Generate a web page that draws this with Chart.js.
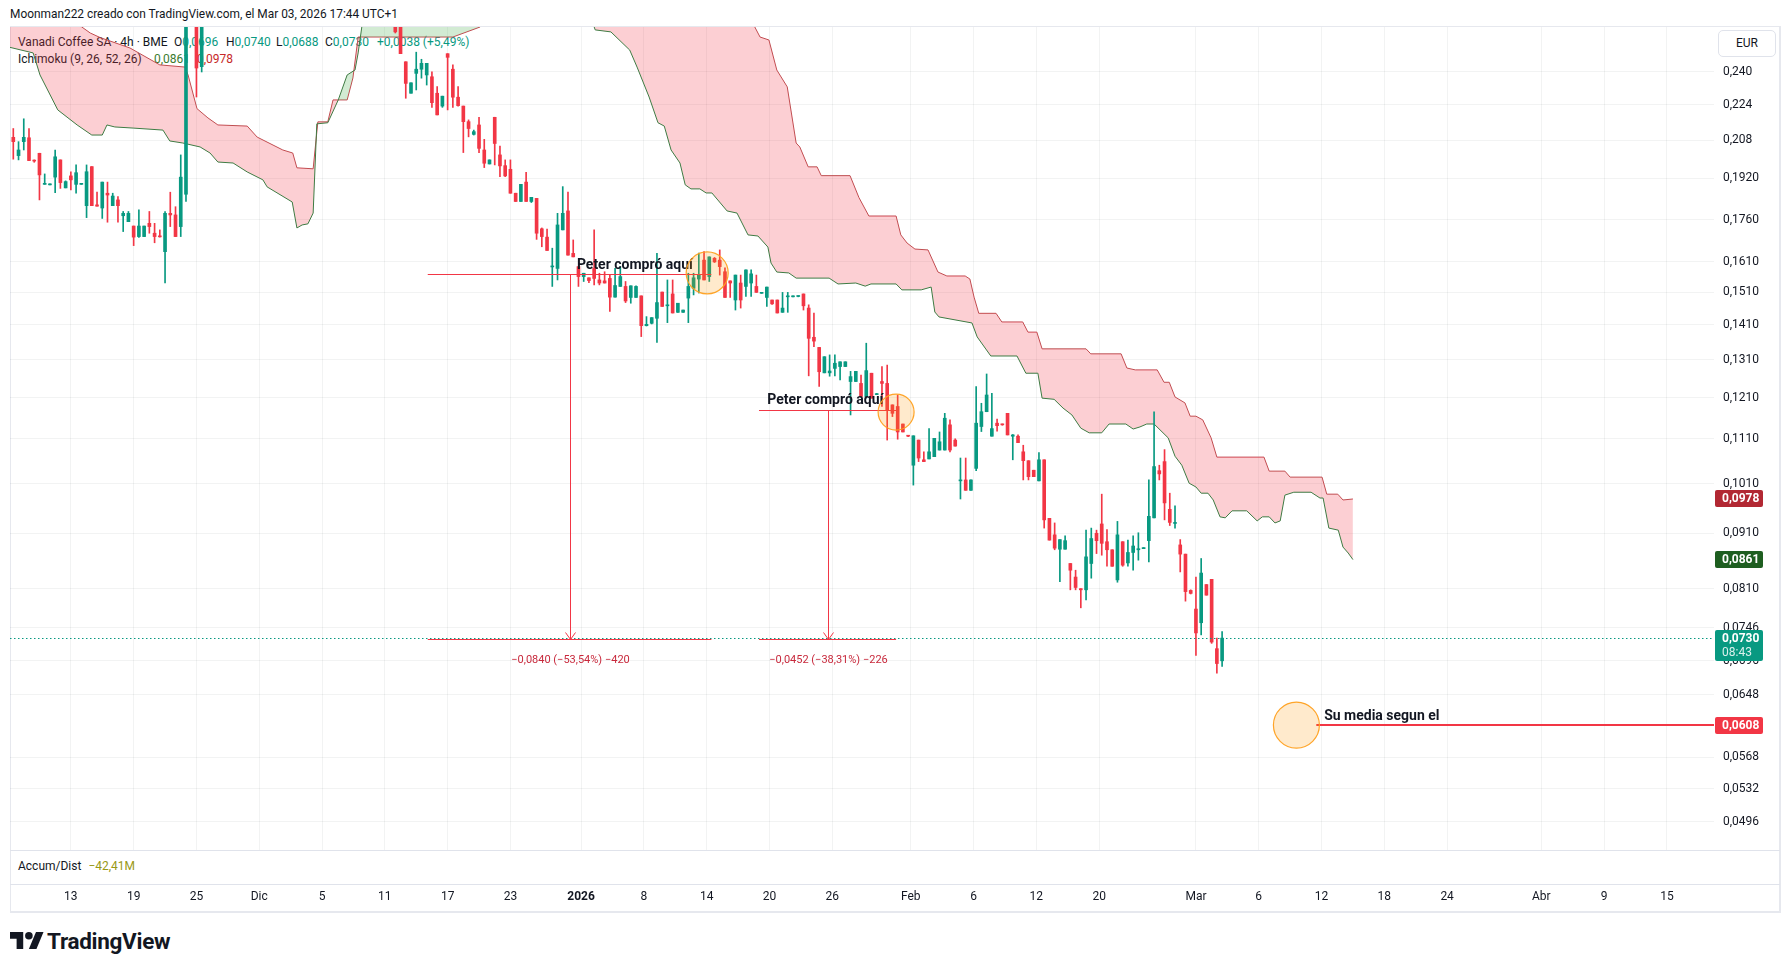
<!DOCTYPE html>
<html><head><meta charset="utf-8">
<script src="https://cdn.jsdelivr.net/npm/chart.js"></script>
<style>
body{margin:0;background:#fff;font-family:Roboto,"Noto Sans",sans-serif;color:#131722}
#wrap{position:relative;width:1790px;height:972px;overflow:hidden;background:#fff}
.t{position:absolute;white-space:nowrap;font-size:12px;line-height:16px;z-index:1}
canvas{position:absolute;left:0;top:0;z-index:2}
.ln{position:absolute;background:#E0E3EB;z-index:1}
</style></head><body><div id="wrap">
<div class="t" style="left:10px;top:6px;font-size:11.9px">Moonman222 creado con TradingView.com, el Mar 03, 2026 17:44 UTC+1</div>
<div style="position:absolute;left:10px;top:26px;width:1771px;height:887px;border:1px solid #E6E8EE;border-right-width:2px;border-bottom-width:2px;box-sizing:border-box;z-index:1"></div>
<div class="ln" style="left:10px;top:850px;width:1770px;height:1px"></div>
<div class="ln" style="left:10px;top:884px;width:1770px;height:1px"></div>
<div class="t" style="left:18px;top:34px">Vanadi Coffee SA · 4h · BME</div>
<div class="t" style="left:174px;top:34px">O<span style="color:#089981">0,0696</span></div>
<div class="t" style="left:226px;top:34px">H<span style="color:#089981">0,0740</span></div>
<div class="t" style="left:276px;top:34px">L<span style="color:#089981">0,0688</span></div>
<div class="t" style="left:325px;top:34px">C<span style="color:#089981">0,0730</span></div>
<div class="t" style="left:377px;top:34px;color:#089981">+0,0038 (+5,49%)</div>
<div class="t" style="left:18px;top:51px">Ichimoku (9, 26, 52, 26)</div>
<div class="t" style="left:154px;top:51px;color:#3B7A2E">0,0861</div>
<div class="t" style="left:197px;top:51px;color:#C62828">0,0978</div>
<div class="t" style="left:1718px;top:30px;width:58px;height:27px;border:1px solid #E0E3EB;border-radius:5px;box-sizing:border-box;text-align:center;line-height:25px;font-size:12px">EUR</div>
<div class="t" style="left:18px;top:858px;font-size:12px">Accum/Dist <span style="color:#999915;margin-left:4px">−42,41M</span></div>
<svg style="position:absolute;left:10px;top:928px" width="34" height="27" viewBox="0 0 36 28"><path d="M14 22H7V11H0V4h14v18z" fill="#131722"/><circle cx="20" cy="8" r="4" fill="#131722"/><path d="M28 22h-8l7.5-18h8L28 22z" fill="#131722"/></svg>
<div class="t" style="left:47px;top:928px;font-size:22.5px;line-height:26px;font-weight:700;letter-spacing:-0.3px">TradingView</div>
<canvas id="c" width="1790" height="972"></canvas>
</div>
<script>
// ---- data ----
const candles = [
[0.2092,0.2131,0.1998,0.2073],[0.2013,0.2073,0.1995,0.2037],[0.2073,0.2175,0.2037,0.2092],[0.2090,0.2131,0.1992,0.1992],
[0.1992,0.1995,0.1985,0.1990],[0.2023,0.2023,0.1834,0.1933],[0.1895,0.1937,0.1895,0.1899],[0.1893,0.1893,0.1893,0.1893],
[0.1924,0.2037,0.1862,0.2008],[0.1995,0.1995,0.1879,0.1902],[0.1881,0.1909,0.1881,0.1906],[0.1929,0.1946,0.1873,0.1913],
[0.1895,0.1974,0.1860,0.1942],[0.1895,0.1895,0.1895,0.1895],[0.1812,0.1974,0.1767,0.1946],[0.1967,0.1967,0.1812,0.1812],
[0.1815,0.1864,0.1810,0.1810],[0.1803,0.1904,0.1764,0.1904],[0.1860,0.1904,0.1750,0.1853],[0.1812,0.1860,0.1812,0.1849],
[0.1834,0.1847,0.1750,0.1812],[0.1774,0.1790,0.1716,0.1783],[0.1752,0.1790,0.1752,0.1783],[0.1736,0.1736,0.1666,0.1696],
[0.1698,0.1796,0.1695,0.1736],[0.1698,0.1736,0.1698,0.1736],[0.1746,0.1790,0.1710,0.1734],[0.1710,0.1746,0.1676,0.1698],
[0.1700,0.1722,0.1696,0.1697],[0.1645,0.1790,0.1540,0.1783],[0.1783,0.1864,0.1734,0.1777],[0.1777,0.1808,0.1698,0.1698],
[0.1734,0.2016,0.1698,0.1924],[0.1856,0.3000,0.1828,0.2850],[0.2700,0.3000,0.2650,0.2900],[0.2800,0.3000,0.2277,0.2420],
[0.2427,0.3000,0.2400,0.2800],
[0.280,0.310,0.275,0.300],[0.300,0.330,0.290,0.320],[0.320,0.340,0.300,0.310],[0.310,0.330,0.300,0.325],
[0.325,0.350,0.310,0.340],[0.340,0.360,0.330,0.350],[0.350,0.370,0.330,0.340],[0.340,0.350,0.320,0.330],
[0.330,0.340,0.310,0.320],[0.320,0.330,0.300,0.310],[0.310,0.320,0.295,0.300],[0.300,0.315,0.290,0.305],
[0.305,0.320,0.300,0.310],[0.310,0.330,0.300,0.320],[0.320,0.330,0.310,0.315],[0.315,0.320,0.300,0.305],
[0.305,0.310,0.295,0.300],[0.300,0.310,0.290,0.295],[0.295,0.300,0.285,0.290],[0.290,0.300,0.280,0.295],
[0.295,0.310,0.290,0.305],[0.305,0.315,0.295,0.300],[0.300,0.305,0.290,0.295],[0.295,0.300,0.285,0.290],
[0.290,0.295,0.280,0.285],[0.285,0.290,0.278,0.282],[0.282,0.290,0.278,0.288],[0.288,0.295,0.282,0.290],
[0.290,0.300,0.285,0.295],[0.295,0.300,0.288,0.292],[0.292,0.296,0.285,0.288],[0.288,0.292,0.280,0.284],
[0.284,0.290,0.278,0.282],[0.282,0.286,0.275,0.278],[0.278,0.282,0.272,0.275],[0.275,0.278,0.268,0.270],
[0.2680,0.2720,0.2605,0.2611],[0.2680,0.2720,0.2494,0.2494],
[0.2452,0.2452,0.2271,0.2343],[0.2295,0.2346,0.2295,0.2346],[0.2393,0.2502,0.2311,0.2414],[0.2414,0.2465,0.2369,0.2444],
[0.2385,0.2444,0.2335,0.2444],[0.2376,0.2401,0.2228,0.2250],[0.2295,0.2327,0.2193,0.2193],[0.2234,0.2281,0.2228,0.2281],
[0.2494,0.2494,0.2216,0.2475],[0.2414,0.2436,0.2228,0.2276],[0.2276,0.2327,0.2234,0.2236],[0.2234,0.2234,0.2026,0.2162],
[0.2162,0.2170,0.2094,0.2131],[0.2105,0.2124,0.2102,0.2117],[0.2147,0.2182,0.2026,0.2044],[0.2037,0.2083,0.1963,0.1981],
[0.1978,0.1995,0.1978,0.1995],[0.2182,0.2182,0.1974,0.2065],[0.2016,0.2054,0.1926,0.1970],[0.1971,0.1995,0.1926,0.1929],
[0.1956,0.1995,0.1860,0.1860],[0.1860,0.1860,0.1828,0.1828],[0.1828,0.1895,0.1828,0.1895],[0.1904,0.1944,0.1828,0.1828],
[0.1828,0.1844,0.1824,0.1844],[0.1840,0.1840,0.1688,0.1710],[0.1726,0.1729,0.1662,0.1698],[0.1696,0.1725,0.1649,0.1649],
[0.1593,0.1657,0.1529,0.1596],[0.1588,0.1783,0.1550,0.1740],[0.1722,0.1886,0.1722,0.1783],[0.1792,0.1864,0.1633,0.1633],
[0.1639,0.1686,0.1627,0.1627],[0.1594,0.1594,0.1529,0.1561],[0.1561,0.1572,0.1545,0.1572],[0.1557,0.1557,0.1541,0.1548],
[0.1588,0.1722,0.1534,0.1555],[0.1550,0.1572,0.1534,0.1540],[0.1547,0.1577,0.1540,0.1540],[0.1555,0.1566,0.1451,0.1495],
[0.1495,0.1588,0.1495,0.1532],[0.1529,0.1594,0.1529,0.1561],[0.1529,0.1545,0.1478,0.1483],[0.1494,0.1531,0.1476,0.1531],
[0.1494,0.1531,0.1494,0.1529],[0.1499,0.1499,0.1376,0.1408],[0.1408,0.1435,0.1407,0.1412],[0.1415,0.1432,0.1413,0.1432],
[0.1430,0.1639,0.1359,0.1478],[0.1511,0.1511,0.1466,0.1466],[0.1468,0.1550,0.1417,0.1471],[0.1505,0.1550,0.1446,0.1446],
[0.1448,0.1476,0.1448,0.1476],[0.1448,0.1455,0.1448,0.1455],[0.1492,0.1572,0.1417,0.1529],[0.1523,0.1572,0.1502,0.1557],
[0.1553,0.1640,0.1508,0.1566],
[0.1616,0.1645,0.1550,0.1550],[0.1561,0.1627,0.1545,0.1627],[0.1622,0.1625,0.1608,0.1610],[0.1616,0.1651,0.1566,0.1594],
[0.1577,0.1590,0.1494,0.1494],[0.1547,0.1547,0.1494,0.1540],[0.1486,0.1566,0.1455,0.1566],[0.1540,0.1566,0.1461,0.1486],
[0.1529,0.1583,0.1497,0.1583],[0.1540,0.1583,0.1497,0.1570],[0.1529,0.1566,0.1510,0.1510],[0.1507,0.1510,0.1507,0.1509],
[0.1494,0.1527,0.1466,0.1527],[0.1486,0.1486,0.1472,0.1474],[0.1486,0.1486,0.1446,0.1446],[0.1448,0.1510,0.1448,0.1461],
[0.1496,0.1510,0.1448,0.1498],[0.1496,0.1498,0.1496,0.1498],[0.1497,0.1499,0.1496,0.1498],[0.1505,0.1505,0.1455,0.1468],
[0.1461,0.1471,0.1267,0.1371],[0.1374,0.1446,0.1347,0.1363],[0.1345,0.1345,0.1239,0.1278],[0.1275,0.1319,0.1275,0.1319],
[0.1275,0.1324,0.1266,0.1280],[0.1287,0.1324,0.1267,0.1301],[0.1292,0.1305,0.1256,0.1305],[0.1292,0.1305,0.1292,0.1305],
[0.1252,0.1279,0.1167,0.1265],[0.1252,0.1279,0.1252,0.1279],[0.1247,0.1269,0.1213,0.1213],[0.1213,0.1357,0.1209,0.1281],
[0.1274,0.1274,0.1209,0.1209],[0.1218,0.1221,0.1218,0.1220],[0.1252,0.1292,0.1188,0.1247],[0.1247,0.1296,0.1107,0.1179],
[0.1192,0.1192,0.1163,0.1171],[0.1188,0.1217,0.1109,0.1126],[0.1145,0.1145,0.1126,0.1126],[0.1118,0.1118,0.1115,0.1116],
[0.1050,0.1117,0.1007,0.1117],[0.1107,0.1107,0.1058,0.1066],[0.1062,0.1080,0.1058,0.1058],[0.1064,0.1134,0.1064,0.1080],
[0.1069,0.1111,0.1069,0.1111],[0.1084,0.1126,0.1084,0.1103],[0.1084,0.1171,0.1084,0.1159],[0.1143,0.1155,0.1080,0.1084],
[0.1107,0.1110,0.1093,0.1093],[0.1016,0.1066,0.0978,0.1018],[0.1018,0.1066,0.0996,0.0996],[0.0996,0.1018,0.0996,0.1018],
[0.1043,0.1239,0.1038,0.1147],[0.1139,0.1196,0.1127,0.1175],[0.1175,0.1272,0.1175,0.1217],[0.1116,0.1221,0.1116,0.1134],
[0.1147,0.1157,0.1128,0.1141],[0.1145,0.1145,0.1142,0.1143],[0.1171,0.1171,0.1119,0.1119],[0.1116,0.1120,0.1062,0.1119],
[0.1116,0.1119,0.1101,0.1101],[0.1080,0.1095,0.1018,0.1060],[0.1060,0.1060,0.1018,0.1025],[0.1039,0.1039,0.1025,0.1025],
[0.1016,0.1078,0.1016,0.1062],[0.1062,0.1062,0.0920,0.0936],[0.0939,0.0939,0.0897,0.0897],[0.0907,0.0930,0.0879,0.0882],
[0.0880,0.0898,0.0822,0.0898],[0.0880,0.0905,0.0880,0.0896],[0.0854,0.0854,0.0808,0.0842],[0.0830,0.0842,0.0808,0.0812],
[0.0810,0.0810,0.0778,0.0808],[0.0808,0.0916,0.0791,0.0866],[0.0854,0.0920,0.0828,0.0900],[0.0910,0.0916,0.0872,0.0896],
[0.0928,0.0988,0.0869,0.0891],[0.0894,0.0917,0.0849,0.0879],[0.0879,0.0879,0.0849,0.0849],[0.0825,0.0933,0.0821,0.0907],
[0.0894,0.0894,0.0849,0.0851],[0.0855,0.0897,0.0849,0.0874],[0.0874,0.0905,0.0842,0.0886],[0.0879,0.0911,0.0860,0.0881],
[0.0881,0.0883,0.0881,0.0883],[0.0896,0.1018,0.0857,0.0943],[0.0940,0.1175,0.0940,0.1047],[0.1038,0.1050,0.1018,0.1031],
[0.1058,0.1085,0.0936,0.0970],[0.0957,0.0990,0.0925,0.0931],[0.0929,0.0964,0.0920,0.0931],[0.0888,0.0898,0.0839,0.0871],
[0.0871,0.0871,0.0789,0.0805],[0.0807,0.0808,0.0801,0.0802],[0.0776,0.0830,0.0704,0.0738],[0.0754,0.0863,0.0735,0.0837],
[0.0817,0.0817,0.0799,0.0799],[0.0826,0.0826,0.0722,0.0724],[0.0714,0.0730,0.0678,0.0692],[0.0696,0.0740,0.0688,0.0730]
];
// Ichimoku leading spans [bar index, price]
const spanA = [[-1,0.2530],[3.8,0.2498],[5.1,0.2385],[8.5,0.2216],[12.2,0.2147],[15.0,0.2102],[17.0,0.2102],[17.9,0.2147],[19.4,0.2138],[22.9,0.2133],[28.6,0.2124],[29.9,0.2076],[32.4,0.2067],[35.7,0.2050],[37.6,0.2024],[39.1,0.1986],[42.0,0.1982],[44.7,0.1945],[47.7,0.1913],[48.5,0.1885],[53.3,0.1826],[54.2,0.1729],[55.2,0.1740],[56.3,0.1744],[57.3,0.1784],[58.0,0.2152],[60.1,0.2157],[62.1,0.2263],[63.8,0.2385],[65.3,0.2410],[65.9,0.2498],[66.6,0.2638],[68,0.2750],[80,0.3000],[95,0.3100],[105,0.2900],[110.5,0.2680],[111.2,0.2622],[114.2,0.2611],[117.8,0.2513],[119.2,0.2425],[121.5,0.2277],[123.2,0.2157],[124.4,0.2142],[125.7,0.2037],[127.4,0.1982],[128.4,0.1893],[129.5,0.1877],[131.2,0.1877],[132.4,0.1861],[133.5,0.1861],[136.4,0.1792],[138.3,0.1784],[140.4,0.1704],[142.3,0.1700],[144.2,0.1661],[144.8,0.1606],[145.9,0.1576],[148.2,0.1573],[149.6,0.1556],[155.9,0.1556],[157.6,0.1537],[161.0,0.1540],[162.8,0.1530],[163.9,0.1537],[168.7,0.1537],[169.8,0.1518],[173.5,0.1518],[175.4,0.1527],[176.1,0.1449],[176.9,0.1434],[183.2,0.1416],[184.2,0.1375],[186.8,0.1321],[191.8,0.1321],[193.5,0.1274],[195.8,0.1274],[196.6,0.1209],[198.9,0.1206],[200.6,0.1184],[202.3,0.1167],[204.0,0.1135],[205.6,0.1124],[208.0,0.1124],[209.4,0.1145],[212.6,0.1145],[214.0,0.1133],[215.3,0.1138],[216.6,0.1145],[218.0,0.1145],[220.7,0.1112],[222.0,0.1070],[223.3,0.1050],[224.7,0.1011],[226.0,0.1003],[227.0,0.0990],[228.3,0.0990],[229.3,0.0976],[230.6,0.0942],[231.6,0.0940],[232.9,0.0954],[235.7,0.0954],[237.7,0.0934],[238.7,0.0942],[240.0,0.0942],[241.1,0.0930],[242.1,0.0934],[243.0,0.0986],[244.7,0.0992],[248.0,0.0992],[249.7,0.0980],[250.3,0.0980],[251.4,0.0920],[253.2,0.0916],[254.1,0.0884],[255.1,0.0873],[256.0,0.0861]];
const spanB = [[-1,0.2680],[13,0.2640],[14.7,0.2605],[16.6,0.2580],[22.3,0.2524],[28.0,0.2436],[32.8,0.2425],[33.4,0.2385],[35.1,0.2222],[37.2,0.2179],[39.1,0.2147],[44.7,0.2142],[46.6,0.2093],[51.5,0.2037],[53.4,0.2024],[54.2,0.1962],[57.3,0.1958],[58.2,0.2161],[60.1,0.2161],[61.1,0.2263],[63.8,0.2263],[64.9,0.2370],[65.9,0.2583],[84.0,0.2583],[89.2,0.2638],[91.1,0.2750],[100,0.2900],[110,0.3100],[125,0.3100],[138,0.2900],[141.7,0.2638],[142.7,0.2583],[144.4,0.2567],[145.9,0.2410],[147.9,0.2326],[149.6,0.2067],[150.3,0.2050],[151.9,0.1966],[153.6,0.1966],[154.4,0.1930],[159.9,0.1930],[161.6,0.1843],[163.5,0.1773],[168.7,0.1773],[169.6,0.1704],[170.8,0.1675],[172.3,0.1654],[174.8,0.1651],[176.7,0.1576],[178.4,0.1563],[181.9,0.1563],[182.8,0.1553],[183.6,0.1495],[184.5,0.1445],[187.8,0.1445],[188.9,0.1419],[192.9,0.1419],[193.9,0.1389],[195.6,0.1389],[196.6,0.1341],[205.0,0.1341],[205.9,0.1327],[211.7,0.1327],[212.8,0.1288],[214.4,0.1283],[218.6,0.1283],[219.9,0.1250],[220.9,0.1250],[222.0,0.1212],[223.9,0.1197],[224.9,0.1164],[226.0,0.1164],[227.3,0.1155],[228.9,0.1112],[230.0,0.1068],[239.0,0.1068],[240.0,0.1037],[243.0,0.1037],[244.0,0.1024],[250.1,0.1024],[251.0,0.0988],[253.1,0.0988],[254.1,0.0976],[256.0,0.0978]];
const priceTicks = [0.240,0.224,0.208,0.1920,0.1760,0.1610,0.1510,0.1410,0.1310,0.1210,0.1110,0.1010,0.0910,0.0810,0.0746,0.0696,0.0648,0.0568,0.0532,0.0496];
const priceTickLabels = ['0,240','0,224','0,208','0,1920','0,1760','0,1610','0,1510','0,1410','0,1310','0,1210','0,1110','0,1010','0,0910','0,0810','0,0746','0,0696','0,0648','0,0568','0,0532','0,0496'];
const timeTicks = [11,23,35,47,59,71,83,95,108.5,120.5,132.5,144.5,156.5,171.5,183.5,195.5,207.5,226,238,250,262,274,292,304,316];
const timeTickLabels = ['13','19','25','Dic','5','11','17','23','2026','8','14','20','26','Feb','6','12','20','Mar','6','12','18','24','Abr','9','15'];
const lastClose = 0.0730;
const ranges = [
  {from:79.2, to:133.4, top:0.1569, bottom:0.0729, label:'\u22120,0840 (\u221253,54%) \u2212420'},
  {from:142.5, to:168.7, top:0.1180, bottom:0.0728, label:'\u22120,0452 (\u221238,31%) \u2212226'}
];
const notes = [
  {text:'Peter compró aquí', at:107.7, price:0.1599},
  {text:'Peter compró aquí', at:144.1, price:0.1202},
  {text:'Su media segun el', at:250.5, price:0.0619}
];
const markers = [{at:132.6, price:0.1573, r:21},{at:168.7, price:0.1174, r:18},{at:245.2, price:0.0608, r:23}];
const meanLine = {from:249, price:0.0608};
const axisTags = [
  {price:0.0978, lines:['0,0978'], bg:'#B22833'},
  {price:0.0861, lines:['0,0861'], bg:'#1E5E20'},
  {price:0.0608, lines:['0,0608'], bg:'#F23645'},
  {price:0.0730, lines:['0,0730','08:43'], bg:'#089981'}
];

// ---- chart ----
const UP='#089981', DOWN='#F23645';
const colors = candles.map(c => c[3] >= c[0] ? UP : DOWN);
Chart.defaults.font.family = 'Roboto, "Noto Sans", sans-serif';

const drawings = {
  id:'drawings',
  afterDatasetsDraw(chart){
    const {ctx, chartArea:a, scales:{x,y}} = chart;
    const X = v => x.getPixelForValue(v), Y = v => y.getPixelForValue(v);
    ctx.save();
    ctx.beginPath(); ctx.rect(a.left,a.top,a.width,a.height); ctx.clip();
    const yl = Math.round(Y(lastClose)) + 0.5;
    ctx.strokeStyle = UP; ctx.lineWidth = 1; ctx.setLineDash([1.5,2.5]);
    ctx.beginPath(); ctx.moveTo(a.left,yl); ctx.lineTo(a.right,yl); ctx.stroke();
    ctx.setLineDash([]);
    const seg = (x1,y1,x2,y2) => { ctx.beginPath(); ctx.moveTo(x1,y1); ctx.lineTo(x2,y2); ctx.stroke(); };
    for (const r of ranges) {
      const x1 = X(r.from), x2 = X(r.to), xm = Math.round((x1+x2)/2)+0.5;
      const yt = Math.round(Y(r.top))+0.5, yb = Math.round(Y(r.bottom))+0.5;
      ctx.strokeStyle = '#F23645'; ctx.lineWidth = 1;
      seg(x1,yt,x2,yt); seg(x1,yb,x2,yb); seg(xm,yt,xm,yb);
      seg(xm-5,yb-7,xm,yb); seg(xm+5,yb-7,xm,yb);
      ctx.fillStyle = '#C8293C'; ctx.font = '11px Roboto, "Noto Sans", sans-serif';
      ctx.textAlign = 'center'; ctx.textBaseline = 'middle';
      ctx.fillText(r.label, xm, yb + 21);
    }
    ctx.strokeStyle = '#F23645'; ctx.lineWidth = 2;
    const ym = Math.round(Y(meanLine.price));
    seg(X(meanLine.from), ym, a.right, ym);
    ctx.fillStyle = '#131722'; ctx.font = 'bold 14px Roboto, "Noto Sans", sans-serif';
    ctx.textAlign = 'left'; ctx.textBaseline = 'middle';
    for (const n of notes) ctx.fillText(n.text, X(n.at), Y(n.price));
    for (const m of markers) {
      ctx.beginPath(); ctx.arc(X(m.at), Y(m.price), m.r, 0, Math.PI*2);
      ctx.fillStyle = 'rgba(255,152,0,0.2)'; ctx.fill();
      ctx.strokeStyle = 'rgba(255,160,30,0.95)'; ctx.lineWidth = 1.2; ctx.stroke();
    }
    ctx.restore();
  },
  afterDraw(chart){
    const {ctx, chartArea:a, scales:{y}} = chart;
    ctx.save();
    for (const t of axisTags) {
      const yc = y.getPixelForValue(t.price);
      const h = t.lines.length > 1 ? 31 : 17;
      const top = Math.round(yc - 8.5);
      ctx.fillStyle = t.bg;
      ctx.beginPath(); ctx.roundRect(a.right+1, top, 48, h, 2); ctx.fill();
      ctx.fillStyle = '#fff'; ctx.textAlign = 'left'; ctx.textBaseline = 'middle';
      t.lines.forEach((s,i) => {
        ctx.font = (i===0 ? 'bold ' : '') + '12px Roboto, "Noto Sans", sans-serif';
        ctx.globalAlpha = i===0 ? 1 : 0.85;
        ctx.fillText(s, a.right+8, top + 9 + i*14);
      });
      ctx.globalAlpha = 1;
    }
    ctx.restore();
  }
};

new Chart(document.getElementById('c'), {
  type:'bar',
  data:{datasets:[
    {type:'bar', label:'bodies', data:candles.map((c,i)=>({x:i, y:[c[0],c[3]]})), backgroundColor:colors,
     barThickness:3, minBarLength:1, grouped:false, order:1, clip:0, borderWidth:0},
    {type:'bar', label:'wicks', data:candles.map((c,i)=>({x:i, y:[c[2],c[1]]})), backgroundColor:colors,
     barThickness:1, minBarLength:1, grouped:false, order:2, clip:0, borderWidth:0},
    {type:'line', label:'Senkou A', data:spanA.map(p=>({x:p[0], y:p[1]})), borderColor:'#3E7B43', borderWidth:1,
     pointRadius:0, tension:0, order:5, clip:0,
     fill:{target:3, above:'rgba(76,175,80,0.25)', below:'rgba(242,54,69,0.24)'}},
    {type:'line', label:'Senkou B', data:spanB.map(p=>({x:p[0], y:p[1]})), borderColor:'#C44A52', borderWidth:1,
     pointRadius:0, tension:0, order:6, clip:0, fill:false}
  ]},
  options:{
    responsive:false, devicePixelRatio:1, animation:false, events:[],
    layout:{padding:{left:10, right:10, top:27, bottom:60}},
    plugins:{legend:{display:false}, tooltip:{enabled:false}},
    scales:{
      x:{type:'linear', min:-0.63, max:325.0, offset:false, bounds:'data',
         grid:{offset:false, color:'rgba(42,46,57,0.06)', drawTicks:false}, border:{display:false},
         afterBuildTicks(s){ s.ticks = timeTicks.map(v=>({value:v})); },
         afterFit(s){ s.height = 62; },
         ticks:{autoSkip:false, maxRotation:0, padding:40, color:'#131722',
                font:(c)=>({size:12, weight: (c.tick && c.tick.label==='2026') ? 'bold' : 'normal'}),
                callback:(v,i)=>timeTickLabels[i]}},
      y:{type:'logarithmic', position:'right', min:0.04676, max:0.2638, bounds:'data',
         grid:{color:'rgba(42,46,57,0.06)', drawTicks:false}, border:{display:false},
         afterBuildTicks(s){ s.ticks = priceTicks.map(v=>({value:v})); },
         afterFit(s){ s.width = 66; },
         ticks:{padding:9, color:'#131722', font:{size:12}, callback:(v,i)=>priceTickLabels[i]}}
    }
  },
  plugins:[drawings]
});
</script></body></html>
